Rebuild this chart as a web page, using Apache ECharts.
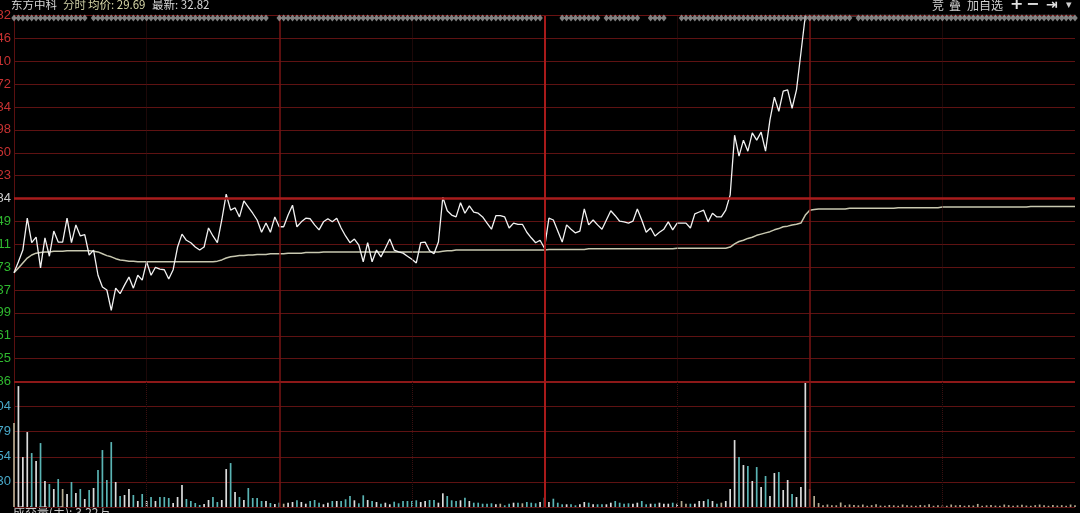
<!DOCTYPE html>
<html><head><meta charset="utf-8">
<script src="https://cdn.jsdelivr.net/npm/echarts@6/dist/echarts.min.js"></script>
<style>html,body{margin:0;padding:0;background:#000;}#c{width:1080px;height:513px;}</style>
</head><body><div id="c"></div>
<script>
const stockName = '东方中科';
const headerAvg = '29.69';
const headerLast = '32.82';
const volFooter = '成交量(手): 3.22万';
const prevClose = 29.84;
const priceMin = 26.86;
const priceMax = 32.82;
const priceTickLabels = ['26.86','27.25','27.61','27.99','28.37','28.73','29.11','29.49','29.84','30.23','30.60','30.98','31.34','31.72','32.10','32.46','32.82'];
const volTickLabels = ['', '1230', '2454', '3679', '4904', ''];
const volMax = 6130;

const prices = [
28.63,28.81,29.00,29.52,29.12,29.21,28.71,29.20,28.90,29.31,
29.13,29.13,29.52,29.12,29.41,29.23,29.25,28.92,29.00,28.59,
28.40,28.35,28.02,28.38,28.29,28.43,28.56,28.38,28.59,28.51,
28.81,28.59,28.72,28.69,28.68,28.53,28.68,29.05,29.26,29.16,
29.12,29.05,29.00,29.05,29.36,29.23,29.12,29.49,29.91,29.65,
29.69,29.54,29.80,29.70,29.60,29.49,29.29,29.44,29.29,29.54,
29.38,29.38,29.57,29.73,29.38,29.46,29.52,29.51,29.41,29.33,
29.46,29.51,29.46,29.52,29.36,29.23,29.12,29.18,29.08,28.81,
29.12,28.81,29.00,28.89,29.03,29.18,29.00,28.97,28.95,28.90,
28.85,28.79,29.12,29.13,28.99,28.94,29.13,29.86,29.64,29.57,
29.54,29.77,29.60,29.72,29.62,29.60,29.54,29.44,29.34,29.56,
29.56,29.54,29.36,29.44,29.42,29.42,29.29,29.20,29.12,29.16,
29.03,29.52,29.49,29.31,29.13,29.41,29.34,29.28,29.31,29.67,
29.41,29.49,29.41,29.34,29.49,29.64,29.56,29.47,29.46,29.44,
29.47,29.67,29.49,29.29,29.36,29.23,29.29,29.34,29.46,29.33,
29.44,29.44,29.44,29.36,29.59,29.62,29.65,29.46,29.60,29.54,
29.54,29.65,29.90,30.87,30.53,30.79,30.61,30.91,30.79,30.92,
30.61,31.12,31.49,31.26,31.59,31.61,31.31,31.61,32.21,32.82,
32.82,32.82,32.82,32.82,32.82,32.82,32.82,32.82,32.82,32.82,
32.82,32.82,32.82,32.82,32.82,32.82,32.82,32.82,32.82,32.82,
32.82,32.82,32.82,32.82,32.82,32.82,32.82,32.82,32.82,32.82,
32.82,32.82,32.82,32.82,32.82,32.82,32.82,32.82,32.82,32.82,
32.82,32.82,32.82,32.82,32.82,32.82,32.82,32.82,32.82,32.82,
32.82,32.82,32.82,32.82,32.82,32.82,32.82,32.82,32.82,32.82,
32.82
];

const avgPrices = [
28.63,28.71,28.79,28.87,28.92,28.95,28.96,28.97,28.97,28.98,
28.98,28.98,28.99,28.99,28.99,28.99,28.99,28.99,28.98,28.97,
28.94,28.91,28.89,28.86,28.84,28.83,28.82,28.82,28.81,28.81,
28.81,28.81,28.81,28.81,28.81,28.81,28.81,28.81,28.81,28.81,
28.81,28.81,28.81,28.81,28.81,28.81,28.82,28.84,28.87,28.89,
28.90,28.91,28.91,28.92,28.92,28.93,28.93,28.93,28.94,28.94,
28.94,28.94,28.95,28.95,28.95,28.95,28.96,28.96,28.96,28.96,
28.97,28.97,28.97,28.97,28.97,28.97,28.97,28.97,28.97,28.97,
28.97,28.97,28.97,28.97,28.97,28.97,28.97,28.97,28.97,28.97,
28.97,28.97,28.97,28.97,28.97,28.97,28.97,28.98,28.99,28.99,
29.00,29.00,29.00,29.00,29.00,29.00,29.00,29.00,29.00,29.00,
29.00,29.00,29.00,29.00,29.00,29.00,29.00,29.00,29.00,29.00,
29.00,29.01,29.01,29.01,29.01,29.01,29.01,29.01,29.01,29.01,
29.02,29.02,29.02,29.02,29.02,29.02,29.02,29.02,29.02,29.02,
29.02,29.02,29.02,29.02,29.02,29.02,29.02,29.02,29.02,29.02,
29.03,29.03,29.03,29.03,29.03,29.03,29.03,29.03,29.03,29.03,
29.03,29.03,29.05,29.10,29.14,29.16,29.19,29.21,29.24,29.26,
29.28,29.30,29.33,29.35,29.38,29.39,29.41,29.42,29.44,29.57,
29.65,29.66,29.67,29.67,29.67,29.67,29.67,29.67,29.67,29.68,
29.68,29.68,29.68,29.68,29.68,29.68,29.68,29.68,29.68,29.68,
29.69,29.69,29.69,29.69,29.69,29.69,29.69,29.69,29.69,29.69,
29.70,29.70,29.70,29.70,29.70,29.70,29.70,29.70,29.70,29.70,
29.70,29.70,29.70,29.70,29.70,29.70,29.70,29.70,29.70,29.70,
29.71,29.71,29.71,29.71,29.71,29.71,29.71,29.71,29.71,29.71,
29.71
];

const volumes = [
4100,5905,2440,3660,2635,2245,3123,1269,1122,878,
1366,878,634,1220,683,878,390,830,927,1806,
2782,1318,3172,1220,537,586,878,586,293,634,
293,488,293,488,488,439,195,488,1074,390,
293,195,98,146,342,488,244,342,1854,2147,
732,488,342,927,439,439,293,293,195,146,
210,161,210,244,327,244,161,293,342,210,
132,210,293,293,293,376,537,327,181,571,
342,293,244,161,210,132,259,181,293,293,
293,327,244,293,342,342,210,669,537,327,
293,327,454,293,210,210,161,161,181,132,
161,83,161,210,210,181,244,210,181,244,
454,244,405,210,132,132,132,83,132,244,
210,132,132,132,132,210,293,210,161,181,
161,210,293,132,161,161,210,161,161,210,
161,293,161,161,161,293,293,376,293,161,
210,293,878,3270,2440,2050,2000,1269,1952,976,
1513,537,1659,1708,830,1318,634,488,976,6130,
878,537,195,83,122,83,83,220,83,122,
100,80,120,60,90,140,70,60,100,80,
60,120,90,70,60,100,80,140,60,90,
70,60,120,80,100,60,90,70,150,60,
80,100,70,60,120,90,60,80,110,70,
60,90,120,80,60,100,70,90,60,120,
80
];

// minute index ranges where the grey marker row is present
const diamondRanges = [[0,16],[18,57],[60,119],[124,132],[134,141],[144,147],[151,189],[191,240]];

// time categories 09:30..11:30, 13:01..15:00
const times = [];
function fmt(t){const h=Math.floor(t/60),m=t%60;return (h<10?'0':'')+h+':'+(m<10?'0':'')+m;}
for (let m=0;m<=120;m++) times.push(fmt(570+m));
for (let m=1;m<=120;m++) times.push(fmt(780+m));

const diamondData = [];
diamondRanges.forEach(r=>{for(let i=r[0];i<=r[1];i++) diamondData.push([i,0.5]);});

const volColors = volumes.map((v,i)=>{
  if(i===0) return '#b4aa90';
  const d = prices[i]-prices[i-1];
  if(d>0) return '#dcdcdc';
  if(d<0) return '#5ab4b4';
  return '#b4aa90';
});

const L = 14, R = 5;
const chart = echarts.init(document.getElementById('c'), null, {renderer:'canvas'});
const gridLine = '#5e1212';
const vline = (idx, color, width, type) => ({xAxis: times[idx], lineStyle:{color, width, type}});
const vLines = [
  vline(30,'#3a1010',1,'dotted'), vline(90,'#3a1010',1,'dotted'),
  vline(150,'#3a1010',1,'dotted'), vline(210,'#3a1010',1,'dotted'),
  vline(60,'#7a1515',1.5,'solid'), vline(180,'#7a1515',1.5,'solid'),
  vline(120,'#a81a1a',2,'solid')
];
const axisFont = 'Liberation Sans, Arial, sans-serif';
const cjk = '"Noto Sans CJK SC", sans-serif';
const gridBase = {outerBoundsMode:'none',containLabel:false,left:L,right:R};

chart.setOption({
  backgroundColor:'#000',
  animation:false,
  grid:[
    Object.assign({top:15.5,height:366},gridBase),
    Object.assign({top:381.5,height:125.5},gridBase),
    Object.assign({top:14,height:8},gridBase)
  ],
  xAxis:[
    {type:'category',gridIndex:0,data:times,boundaryGap:false,axisLine:{show:false},axisTick:{show:false},axisLabel:{show:false},splitLine:{show:false}},
    {type:'category',gridIndex:1,data:times,boundaryGap:false,axisLine:{show:false},axisTick:{show:false},axisLabel:{show:false},splitLine:{show:false}},
    {type:'category',gridIndex:2,data:times,boundaryGap:false,show:false}
  ],
  yAxis:[
    {type:'value',gridIndex:0,min:priceMin,max:priceMax,show:false,splitLine:{show:false}},
    {type:'value',gridIndex:0,min:0,max:priceTickLabels.length-1,interval:1,position:'left',
      axisLine:{show:true,lineStyle:{color:'#5a1010',width:1}},axisTick:{show:false},
      splitLine:{show:true,lineStyle:{color:gridLine,width:1}},
      axisLabel:{margin:3,fontSize:13,fontFamily:axisFont,
        formatter:v=>priceTickLabels[Math.round(v)],
        color:(v)=>{const k=Math.round(v);return k>8?'#c83232':(k===8?'#d0d0d0':'#2fb82f');}}},
    {type:'value',gridIndex:1,min:0,max:volMax,show:false,splitLine:{show:false}},
    {type:'value',gridIndex:1,min:0,max:volTickLabels.length-1,interval:1,position:'left',
      axisLine:{show:true,lineStyle:{color:'#5a1010',width:1}},axisTick:{show:false},
      splitLine:{show:true,lineStyle:{color:gridLine,width:1}},
      axisLabel:{margin:3,fontSize:13,fontFamily:axisFont,color:'#48a8c8',
        formatter:v=>volTickLabels[Math.round(v)]}},
    {type:'value',gridIndex:2,min:0,max:1,show:false}
  ],
  series:[
    {type:'line',name:'均价',xAxisIndex:0,yAxisIndex:0,data:avgPrices,symbol:'none',z:3,
      lineStyle:{color:'#c8c8b0',width:1.5},
      markLine:{silent:true,symbol:'none',label:{show:false},animation:false,
        data:[...vLines,
          {yAxis:prevClose,lineStyle:{color:'#a81c1c',width:2.5,type:'solid'}},
          {yAxis:priceMin,lineStyle:{color:'#8c1818',width:2,type:'solid'}},
          {yAxis:priceMax,lineStyle:{color:'#6a1212',width:1,type:'solid'}}]}},
    {type:'line',name:'价格',xAxisIndex:0,yAxisIndex:0,data:prices,symbol:'none',z:4,
      lineStyle:{color:'#f2f2f2',width:1.3}},
    {type:'bar',name:'成交量',xAxisIndex:1,yAxisIndex:2,data:volumes,barWidth:1.7,z:3,
      itemStyle:{color:(p)=>volColors[p.dataIndex]},
      markLine:{silent:true,symbol:'none',label:{show:false},animation:false,data:vLines}},
    {type:'scatter',xAxisIndex:2,yAxisIndex:4,data:diamondData,symbol:'diamond',symbolSize:[5.5,7],z:5,
      itemStyle:{color:'#a0a0a0'},silent:true}
  ],
  graphic:[
    {type:'text',left:11,top:-1,style:{text:stockName,fill:'#d8d8d8',font:'11.5px '+cjk}},
    {type:'text',left:63,top:-1,style:{text:'分时',fill:'#c8c8a0',font:'11.5px '+cjk}},
    {type:'text',left:88,top:-1,style:{text:'均价: '+headerAvg,fill:'#d8d8a8',font:'11.5px '+cjk}},
    {type:'text',left:152,top:-1,style:{text:'最新: '+headerLast,fill:'#d8d8d8',font:'11.5px '+cjk}},
    {type:'text',left:932,top:-1,style:{text:'竞',fill:'#cfcfcf',font:'12px '+cjk}},
    {type:'text',left:949,top:-1,style:{text:'叠',fill:'#cfcfcf',font:'12px '+cjk}},
    {type:'text',left:967,top:-1,style:{text:'加自选',fill:'#cfcfcf',font:'12px '+cjk}},
    {type:'text',left:1010,top:-3,style:{text:'+',fill:'#e0e0e0',font:'bold 16px DejaVu Sans'}},
    {type:'text',left:1026,top:-3,style:{text:'−',fill:'#e0e0e0',font:'bold 16px DejaVu Sans'}},
    {type:'text',left:1046,top:-2,style:{text:'⇥',fill:'#e0e0e0',font:'bold 14px DejaVu Sans'}},
    {type:'text',left:1066,top:0,style:{text:'▾',fill:'#d0d0d0',font:'11px DejaVu Sans'}},
    {type:'text',left:13,top:506,style:{text:volFooter,fill:'#c8c8c8',font:'12px '+cjk}}
  ]
});
</script></body></html>
